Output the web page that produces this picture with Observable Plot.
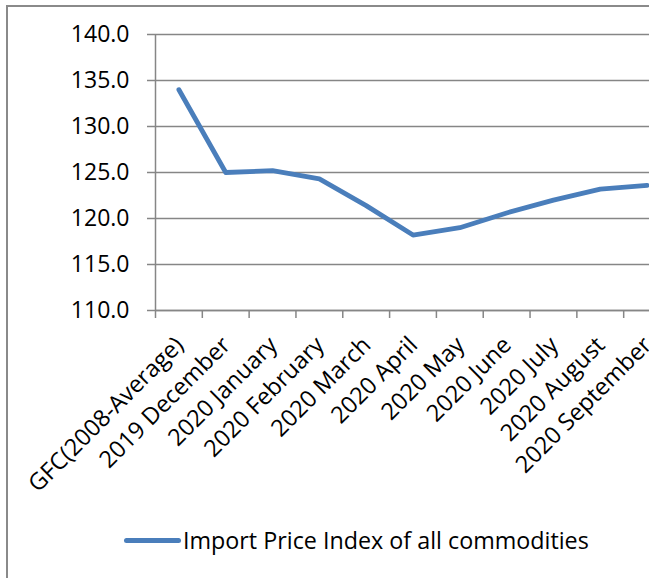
<!DOCTYPE html>
<html>
<head>
<meta charset="utf-8">
<script src="https://cdn.jsdelivr.net/npm/d3@7"></script>
<script src="https://cdn.jsdelivr.net/npm/@observablehq/plot@0.6"></script>
<style>
  html, body { margin: 0; padding: 0; background: #fff; overflow: hidden; width: 649px; height: 578px; }
  #wrap { position: relative; width: 649px; height: 578px; overflow: hidden; font-family: "Open Sans", sans-serif; }
  #frame { position: absolute; left: 6px; top: 5px; width: 800px; height: 800px; border: 2px solid #8a8a8a; box-sizing: border-box; }
  #chart { position: absolute; left: 0; top: 0; width: 670px; }
  #chart svg { max-width: none !important; }
  #legend { position: absolute; left: 124px; top: 524px; display: flex; align-items: center; font-size: 23.3px; color: #000; white-space: nowrap; }
  #legend .sw { width: 57px; height: 5px; border-radius: 3px; background: #4A7EBB; margin-right: 2px; }
</style>
</head>
<body>
<div id="wrap">
  <div id="frame"></div>
  <div id="chart"></div>
  <div id="legend"><span class="sw"></span><span id="legtext"></span></div>
</div>
<script>
const categories = ["GFC(2008-Average)", "2019 December", "2020 January", "2020 February", "2020 March", "2020 April", "2020 May", "2020 June", "2020 July", "2020 August", "2020 September"];
const values = [134.0, 125.0, 125.2, 124.3, 121.4, 118.2, 119.0, 120.6, 122.0, 123.2, 123.6];
const yTicks = [110, 115, 120, 125, 130, 135, 140];
const seriesName = "Import Price Index of all commodities";

const boundaries = d3.range(0, categories.length + 1);
const gray = "#868686";

const chart = Plot.plot({
  width: 670,
  height: 500,
  marginLeft: 155,
  marginRight: 0,
  marginTop: 34,
  marginBottom: 190,
  style: { fontFamily: "'Open Sans', sans-serif", background: "transparent", color: "#000", overflow: "visible", maxWidth: "none" },
  x: { type: "linear", domain: [0, categories.length], axis: null },
  y: { domain: [110, 140], axis: null },
  marks: [
    Plot.gridY(yTicks, { stroke: gray, strokeOpacity: 1, strokeWidth: 1.5 }),
    Plot.axisY({ ticks: yTicks, tickSize: 8, tickPadding: 18, tickFormat: d => d.toFixed(1), label: null, stroke: gray, strokeWidth: 1.5, fontSize: 23, fill: "#000" }),
    Plot.ruleX([0], { stroke: gray, strokeWidth: 1.5 }),
    Plot.ruleY([110], { stroke: gray, strokeWidth: 1.5 }),
    Plot.axisX({ ticks: boundaries, tickSize: 8, tickFormat: () => "", label: null, stroke: gray, strokeWidth: 1.5 }),
    Plot.text(categories, {
      x: (d, i) => i + 0.5,
      frameAnchor: "bottom",
      text: d => d,
      rotate: -45,
      textAnchor: "end",
      dx: 6,
      dy: 36,
      fontSize: 23.5,
      fill: "#000"
    }),
    Plot.line(values, {
      x: (d, i) => i + 0.5,
      y: d => d,
      stroke: "#4A7EBB",
      strokeWidth: 4.8,
      strokeLinecap: "round",
      strokeLinejoin: "round"
    })
  ]
});
document.getElementById("chart").appendChild(chart);
document.getElementById("legtext").textContent = seriesName;
</script>
</body>
</html>
